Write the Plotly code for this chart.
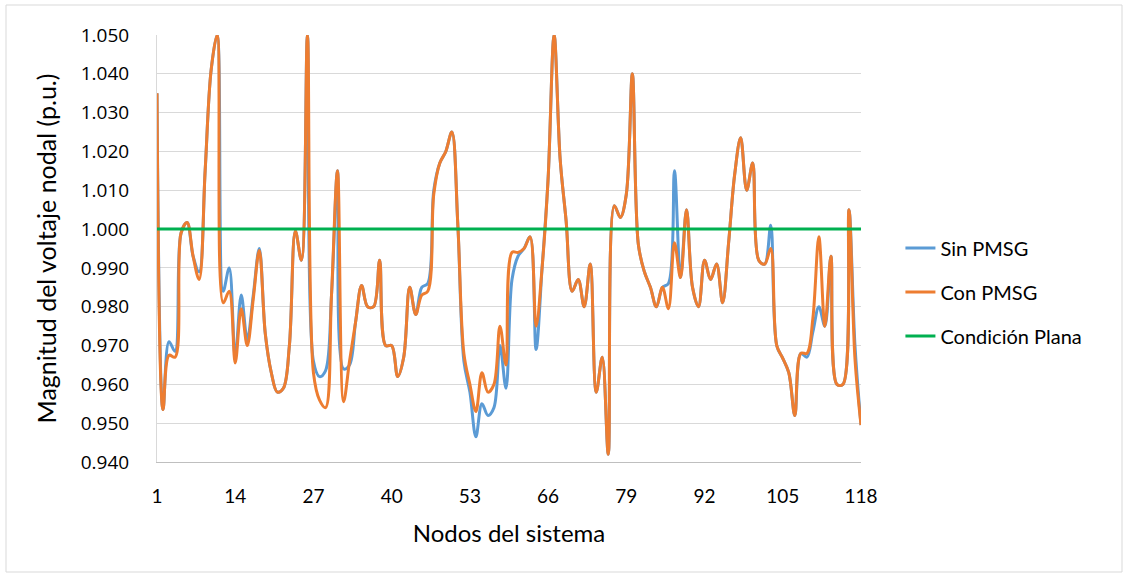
import plotly.graph_objects as go

nodes = list(range(1, 119))

sin_pmsg = [
    1.035, 0.9535, 0.971, 0.9685, 0.999, 1.0017, 0.993, 0.989, 1.015, 1.041,
    1.050, 0.984, 0.990, 0.967, 0.983, 0.9715, 0.983, 0.995, 0.973, 0.963,
    0.958, 0.959, 0.970, 0.9995, 0.992, 1.050, 0.966, 0.962, 0.9635, 0.983,
    1.015, 0.964, 0.965, 0.976, 0.9855, 0.980, 0.980, 0.992, 0.970, 0.970,
    0.962, 0.967, 0.985, 0.978, 0.985, 0.986, 1.010, 1.017, 1.020, 1.025,
    1.001, 0.966, 0.958, 0.9465, 0.955, 0.952, 0.954, 0.970, 0.959, 0.987,
    0.993, 0.995, 0.998, 0.969, 0.990, 1.013, 1.050, 1.018, 1.002, 0.984,
    0.987, 0.980, 0.991, 0.958, 0.967, 0.942, 1.006, 1.003, 1.009, 1.040,
    0.996, 0.989, 0.985, 0.980, 0.985, 0.986, 1.015, 0.9875, 1.005, 0.985,
    0.980, 0.992, 0.987, 0.991, 0.981, 0.9965, 1.014, 1.0235, 1.010, 1.017,
    0.992, 0.991, 1.001, 0.970, 0.9667, 0.963, 0.952, 0.968, 0.967, 0.9735,
    0.980, 0.975, 0.993, 0.960, 0.960, 1.005, 0.970, 0.9495,
]

con_pmsg = [
    1.035, 0.9535, 0.9675, 0.967, 0.999, 1.0017, 0.993, 0.987, 1.015, 1.041,
    1.050, 0.981, 0.984, 0.9655, 0.9795, 0.970, 0.982, 0.9945, 0.973, 0.963,
    0.958, 0.959, 0.970, 0.9995, 0.992, 1.050, 0.963, 0.956, 0.954, 0.983,
    1.015, 0.9555, 0.966, 0.976, 0.9855, 0.980, 0.980, 0.992, 0.970, 0.970,
    0.962, 0.967, 0.985, 0.978, 0.983, 0.984, 1.009, 1.017, 1.020, 1.025,
    1.001, 0.968, 0.960, 0.953, 0.963, 0.958, 0.960, 0.975, 0.965, 0.994,
    0.994, 0.995, 0.998, 0.975, 0.990, 1.013, 1.050, 1.018, 1.002, 0.984,
    0.987, 0.980, 0.991, 0.958, 0.967, 0.942, 1.006, 1.003, 1.009, 1.040,
    0.996, 0.989, 0.985, 0.980, 0.985, 0.9795, 0.9965, 0.9875, 1.005, 0.985,
    0.980, 0.992, 0.987, 0.991, 0.981, 0.9965, 1.014, 1.0235, 1.010, 1.017,
    0.992, 0.991, 0.995, 0.970, 0.9667, 0.963, 0.952, 0.968, 0.968, 0.977,
    0.998, 0.975, 0.993, 0.960, 0.960, 1.005, 0.9665, 0.9495,
]

condicion_plana = [1.000] * 118

x_ticks = [1, 14, 27, 40, 53, 66, 79, 92, 105, 118]
y_ticks = [0.940, 0.950, 0.960, 0.970, 0.980, 0.990, 1.000, 1.010, 1.020, 1.030, 1.040, 1.050]

fig = go.Figure()
fig.add_trace(go.Scatter(x=nodes, y=sin_pmsg, name="Sin PMSG", mode="lines",
                         line=dict(color="#5B9BD5", width=3, shape="spline", smoothing=1.0),
                         legendgroup="a"))
fig.add_trace(go.Scatter(x=nodes, y=con_pmsg, name="Con PMSG", mode="lines",
                         line=dict(color="#ED7D31", width=3, shape="spline", smoothing=1.0),
                         legendgroup="b"))
fig.add_trace(go.Scatter(x=nodes, y=condicion_plana, name="Condición Plana", mode="lines",
                         line=dict(color="#00B050", width=3), legendgroup="c"))

fig.update_layout(
    width=1128, height=578,
    margin=dict(l=157, r=267, t=35, b=116),
    paper_bgcolor="white", plot_bgcolor="white",
    showlegend=True,
    legend=dict(x=1.056, y=0.547, xanchor="left", yanchor="top",
                font=dict(family="Lato", size=20, color="#000000"),
                tracegroupgap=15, bgcolor="rgba(0,0,0,0)"),
    xaxis=dict(range=[1, 118], tickmode="array", tickvals=x_ticks,
               ticktext=[str(t) for t in x_ticks],
               showgrid=False, zeroline=False, showline=True, linecolor="#BFBFBF", linewidth=1,
               ticks="", ticklabelstandoff=17,
               tickfont=dict(family="Lato", size=19, color="#000000"),
               title=dict(text="Nodos del sistema", font=dict(family="Lato", size=24, color="#000000"),
                          standoff=19)),
    yaxis=dict(range=[0.940, 1.050], tickmode="array", tickvals=y_ticks,
               ticktext=[f"{v:.3f}" for v in y_ticks],
               showgrid=True, gridcolor="#D9D9D9", gridwidth=1, zeroline=False,
               showline=True, linecolor="#D9D9D9", linewidth=1,
               ticks="", ticklabelstandoff=23,
               tickfont=dict(family="Open Sans", size=19, color="#000000"),
               title=dict(text="Magnitud del voltaje nodal (p.u.)",
                          font=dict(family="Lato", size=25, color="#000000"), standoff=16)),
    shapes=[dict(type="rect", xref="paper", yref="paper",
                 x0=(6 - 157) / 704, x1=(1122 - 157) / 704,
                 y0=(462 - 572) / 427, y1=(462 - 5) / 427,
                 line=dict(color="#D9D9D9", width=1), fillcolor="rgba(0,0,0,0)", layer="below")],
)

fig.write_html("out.html", config={"displayModeBar": False},
               post_script="document.body.style.margin='0';")
